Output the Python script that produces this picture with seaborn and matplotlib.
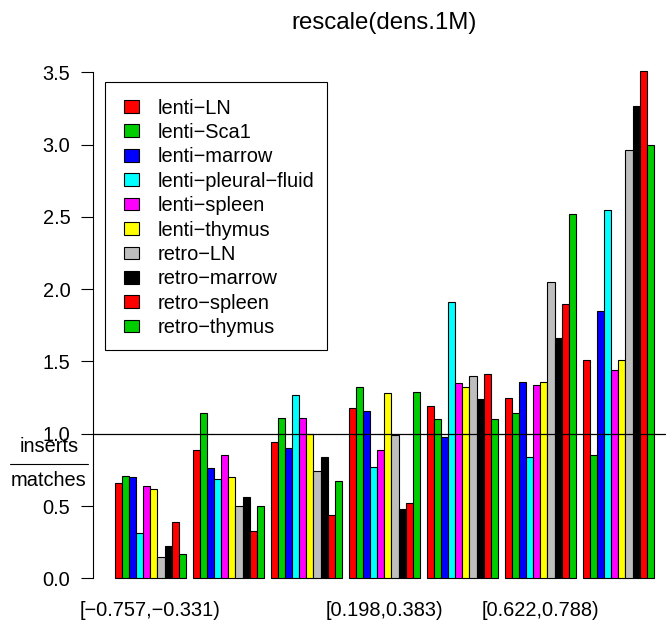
import numpy as np
import pandas as pd
import seaborn as sns
import matplotlib
matplotlib.use("Agg")
import matplotlib.pyplot as plt
from matplotlib.patches import Patch, Rectangle
from matplotlib.lines import Line2D

# Ratio of inserts to matches, per density bin and per sample
bin_labels = ["[\u22120.757,\u22120.331)", "", "", "[0.198,0.383)", "", "[0.622,0.788)", ""]

samples = ["lenti\u2212LN", "lenti\u2212Sca1", "lenti\u2212marrow", "lenti\u2212pleural\u2212fluid",
           "lenti\u2212spleen", "lenti\u2212thymus", "retro\u2212LN", "retro\u2212marrow",
           "retro\u2212spleen", "retro\u2212thymus"]
sample_colors = ["#FF0000", "#00CD00", "#0000FF", "#00FFFF", "#FF00FF",
                 "#FFFF00", "#BEBEBE", "#000000", "#FF0000", "#00CD00"]

lenti_LN = [0.66, 0.89, 0.94, 1.18, 1.19, 1.25, 1.51]
lenti_Sca1 = [0.71, 1.14, 1.11, 1.32, 1.10, 1.14, 0.85]
lenti_marrow = [0.70, 0.76, 0.90, 1.16, 0.98, 1.36, 1.85]
lenti_pleural_fluid = [0.31, 0.69, 1.27, 0.77, 1.91, 0.84, 2.55]
lenti_spleen = [0.64, 0.85, 1.11, 0.89, 1.35, 1.34, 1.44]
lenti_thymus = [0.62, 0.70, 1.00, 1.28, 1.32, 1.36, 1.51]
retro_LN = [0.15, 0.50, 0.74, 0.99, 1.40, 2.05, 2.96]
retro_marrow = [0.22, 0.56, 0.84, 0.48, 1.24, 1.66, 3.27]
retro_spleen = [0.39, 0.33, 0.44, 0.52, 1.41, 1.90, 3.51]
retro_thymus = [0.17, 0.50, 0.67, 1.29, 1.10, 2.52, 3.00]

series = [lenti_LN, lenti_Sca1, lenti_marrow, lenti_pleural_fluid, lenti_spleen,
          lenti_thymus, retro_LN, retro_marrow, retro_spleen, retro_thymus]

rows = []
for name, vals in zip(samples, series):
    for b, v in enumerate(vals):
        rows.append({"bin": b, "sample": name, "ratio": v})
df = pd.DataFrame(rows)

sns.set_style("white")
plt.rcParams["font.family"] = ["Liberation Sans", "DejaVu Sans"]
plt.rcParams["text.color"] = "black"
plt.rcParams["axes.labelcolor"] = "black"

W, H = 666, 630
fig = plt.figure(figsize=(W / 100, H / 100), dpi=100)

def fx(px):
    return px / W

def fy(py):
    return 1 - py / H

n_bins = len(bin_labels)
group_w = 10 / 11
ext = (n_bins - 1 + group_w) * 0.04
x_lo = -group_w / 2 - ext
x_hi = n_bins - 1 + group_w / 2 + ext
ymax = max(max(s) for s in series)
y_lo, y_hi = -0.04 * ymax, ymax * 1.04

ax = fig.add_axes([fx(93.4), fy(598.6), fx(675.4) - fx(93.4), fy(50.5) - fy(598.6)])
palette = dict(zip(samples, sample_colors))
sns.barplot(data=df, x="bin", y="ratio", hue="sample", hue_order=samples,
            palette=palette, width=group_w, saturation=1, edgecolor="black",
            linewidth=0.8, errorbar=None, legend=False, ax=ax)

ax.set_xlim(x_lo, x_hi)
ax.set_ylim(y_lo, y_hi)
ax.axhline(1.0, color="black", lw=0.9, zorder=5)

for s in ["top", "right", "bottom"]:
    ax.spines[s].set_visible(False)
ax.spines["left"].set_bounds(0, 3.5)
ax.spines["left"].set_color("black")
ax.spines["left"].set_linewidth(0.8)

yt = np.arange(0, 3.51, 0.5)
ax.set_yticks(yt, [f"{v:.1f}" for v in yt])
ax.tick_params(axis="y", direction="out", length=8.5, width=0.8, pad=8,
               labelsize=14.4, colors="black", left=True)
ax.set_xticks(range(n_bins), bin_labels)
ax.tick_params(axis="x", length=0, pad=2, labelsize=14.4, colors="black")
ax.set_xlabel("")
ax.set_ylabel("")

fig.text(fx(384.4), fy(22.5), "rescale(dens.1M)", ha="center", va="center", fontsize=17.3)

# stacked fraction label next to the 1.0 tick
fig.text(fx(49), fy(446.7), "inserts", ha="center", va="center", fontsize=14.4)
fig.text(fx(49), fy(480), "matches", ha="center", va="center", fontsize=14.4)
fig.add_artist(Line2D([fx(10), fx(88)], [fy(464.3), fy(464.3)],
                      transform=fig.transFigure, color="black", lw=0.8))

handles = [Patch(facecolor=c, edgecolor="black", lw=0.8, label=n)
           for n, c in zip(samples, sample_colors)]
fig.legend(handles=handles, loc="upper left", bbox_to_anchor=(fx(124), fy(98.5)),
           bbox_transform=fig.transFigure, borderaxespad=0, borderpad=0,
           frameon=False, fontsize=14.4, handlelength=0.75, handleheight=0.6,
           handletextpad=0.95, labelspacing=0.27)
fig.add_artist(Rectangle((fx(105), fy(350)), fx(326.7) - fx(105), fy(82.3) - fy(350),
                         transform=fig.transFigure, facecolor="none",
                         edgecolor="black", lw=0.8))

fig.savefig("out.png", dpi=100)
